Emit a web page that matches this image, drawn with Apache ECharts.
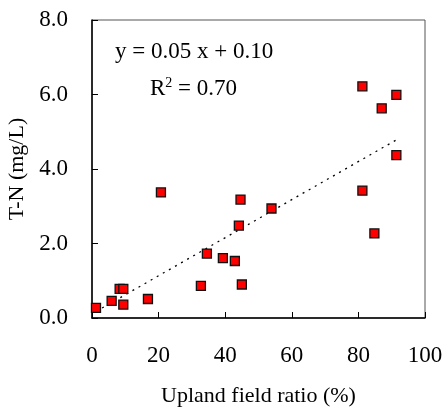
<!DOCTYPE html>
<html>
<head>
<meta charset="utf-8">
<script src="https://cdn.jsdelivr.net/npm/echarts@6/dist/echarts.min.js"></script>
<style>html,body{margin:0;padding:0;background:#fff;}#c{width:442px;height:407px;}</style>
</head>
<body>
<div id="c"></div>
<script>
// Upland field ratio (%)
var xValues = [1.2, 5.9, 8.3, 9.4, 9.4, 16.8, 32.7, 34.5, 39.3, 42.9, 45.0, 20.7, 44.6, 53.9, 44.1, 81.2, 91.4, 87.0, 91.4, 81.2, 84.8];
// T-N (mg/L)
var yValues = [0.27, 0.46, 0.78, 0.78, 0.36, 0.51, 0.86, 1.73, 1.61, 1.53, 0.90, 3.37, 3.18, 2.94, 2.48, 6.22, 5.99, 5.63, 4.37, 3.42, 2.27];
var xTicks = [0, 20, 40, 60, 80, 100];
var yTicks = [0, 2, 4, 6, 8];
var equationText = 'y = 0.05 x + 0.10';
var r2Value = '0.70';

var pts = xValues.map(function (x, i) { return [x, yValues[i]]; });
// least-squares trendline from the data
var n = xValues.length, sx = 0, sy = 0, sxx = 0, sxy = 0;
for (var i = 0; i < n; i++) { sx += xValues[i]; sy += yValues[i]; sxx += xValues[i] * xValues[i]; sxy += xValues[i] * yValues[i]; }
var slope = (n * sxy - sx * sy) / (n * sxx - sx * sx);
var icpt = (sy - slope * sx) / n;
var xmin = Math.min.apply(null, xValues), xmax = Math.max.apply(null, xValues);
var trend = [[xmin, icpt + slope * xmin], [xmax, icpt + slope * xmax]];

var FONT = 'Liberation Serif';
var chart = echarts.init(document.getElementById('c'), null, {renderer: 'canvas'});
chart.setOption({
  animation: false,
  backgroundColor: '#fff',
  grid: {left: 92, top: 20, width: 333, height: 298, containLabel: false, outerBoundsMode: 'none',
    show: true, borderColor: '#555', borderWidth: 1, backgroundColor: 'transparent'},
  xAxis: {
    type: 'value', min: xTicks[0], max: xTicks[xTicks.length - 1], interval: 20,
    name: 'Upland field ratio (%)', nameLocation: 'middle', nameGap: 67,
    nameTextStyle: {fontFamily: FONT, fontSize: 22, color: '#000'},
    axisLine: {show: true, lineStyle: {color: '#000', width: 1.5}},
    axisTick: {show: true, inside: true, length: 6, lineStyle: {color: '#000'}},
    axisLabel: {margin: 26, fontFamily: FONT, fontSize: 23, color: '#000'},
    splitLine: {show: false}
  },
  yAxis: {
    type: 'value', min: yTicks[0], max: yTicks[yTicks.length - 1], interval: 2,
    name: 'T-N (mg/L)', nameLocation: 'middle', nameGap: 61, nameRotate: 90,
    nameTextStyle: {fontFamily: FONT, fontSize: 22, color: '#000'},
    axisLine: {show: true, lineStyle: {color: '#000', width: 1.5}},
    axisTick: {show: true, inside: true, length: 6, lineStyle: {color: '#000'}},
    axisLabel: {margin: 24, fontFamily: FONT, fontSize: 23, color: '#000', formatter: function (v) { return v.toFixed(1); }},
    splitLine: {show: false}
  },
  series: [
    {
      type: 'line', data: trend, showSymbol: false, symbol: 'none', silent: true,
      lineStyle: {color: '#000', width: 1.3, type: [2, 5]}, z: 1
    },
    {
      type: 'scatter', data: pts, symbol: 'rect', symbolSize: 9,
      itemStyle: {color: '#ff0000', borderColor: '#111', borderWidth: 1.3, opacity: 1}, z: 3
    }
  ],
  graphic: [
    {type: 'text', left: 115, top: 40, style: {text: equationText, font: '23px "Liberation Serif"', fill: '#000'}},
    {type: 'text', left: 150, top: 76, style: {
      text: '{a|R}{s|2}{a| = ' + r2Value + '}',
      rich: {a: {fontFamily: FONT, fontSize: 23, fill: '#000', verticalAlign: 'bottom'}, s: {fontFamily: FONT, fontSize: 14, fill: '#000', verticalAlign: 'top', padding: [0, 0, 10, 0]}}
    }}
  ]
});
</script>
</body>
</html>
